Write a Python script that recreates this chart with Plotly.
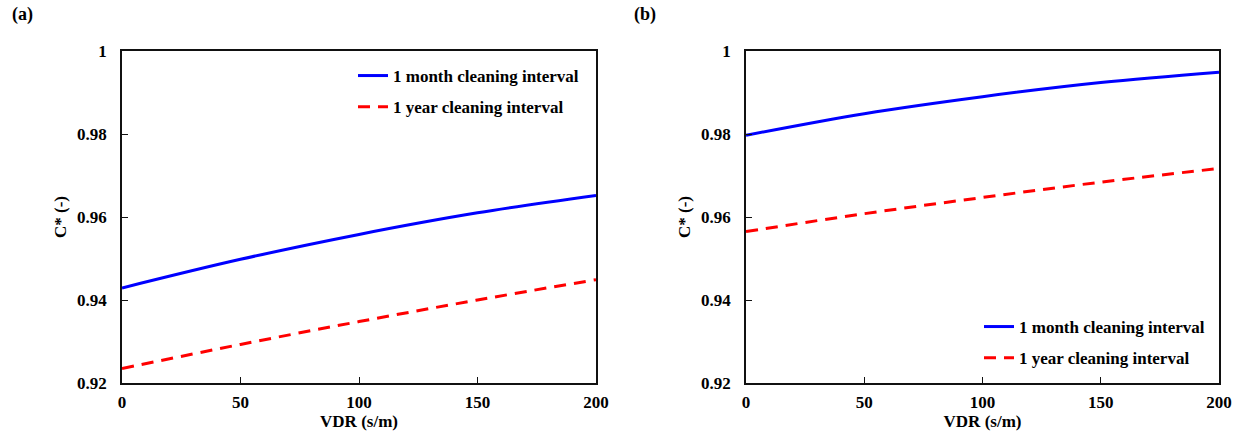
import plotly.graph_objects as go

# ---- data ----
vdr = [0, 50, 100, 150, 200]
a_month = [0.9429, 0.9498, 0.9558, 0.9610, 0.9652]
a_year = [0.9235, 0.9293, 0.9348, 0.9400, 0.9449]
b_month = [0.9797, 0.9849, 0.9890, 0.9924, 0.9949]
b_year = [0.9565, 0.9608, 0.9647, 0.9684, 0.9717]

name_month = "1 month cleaning interval"
name_year = "1 year cleaning interval"
x_title = "VDR (s/m)"
y_title = "C* (-)"
panel_labels = ["(a)", "(b)"]

W, H = 1241, 439
FONT = dict(family="Liberation Serif", size=17, color="black", weight="bold")
BLUE = "#0000FF"
RED = "#FF0000"

fig = go.Figure()

fig.add_trace(go.Scatter(x=vdr, y=a_month, name=name_month, mode="lines",
                         line=dict(color=BLUE, width=3, shape="spline"),
                         xaxis="x", yaxis="y", legend="legend", legendgroup="am"))
fig.add_trace(go.Scatter(x=vdr, y=a_year, name=name_year, mode="lines",
                         line=dict(color=RED, width=3, dash="12px,8px", shape="spline"),
                         xaxis="x", yaxis="y", legend="legend", legendgroup="ay"))
fig.add_trace(go.Scatter(x=vdr, y=b_month, name=name_month, mode="lines",
                         line=dict(color=BLUE, width=3, shape="spline"),
                         xaxis="x2", yaxis="y2", legend="legend2", legendgroup="bm"))
fig.add_trace(go.Scatter(x=vdr, y=b_year, name=name_year, mode="lines",
                         line=dict(color=RED, width=3, dash="12px,8px", shape="spline"),
                         xaxis="x2", yaxis="y2", legend="legend2", legendgroup="by"))

ydom = [1 - 383 / H, 1 - 51 / H]

def xax(dom, anchor):
    return dict(domain=dom, anchor=anchor, range=[0, 200], dtick=50, tick0=0,
                showgrid=False, zeroline=False, showline=True, linecolor="#111",
                linewidth=1.6, mirror=True, ticks="inside", ticklen=6, tickwidth=1.2,
                tickcolor="#111", ticklabelstandoff=3, automargin=False,
                title=dict(text=x_title, standoff=2, font=FONT), tickfont=FONT)

def yax(anchor):
    return dict(domain=ydom, anchor=anchor, range=[0.92, 1.0], dtick=0.02, tick0=0.92,
                showgrid=False, zeroline=False, showline=True, linecolor="#111",
                linewidth=1.6, mirror=True, ticks="inside", ticklen=6, tickwidth=1.2,
                tickcolor="#111", ticklabelstandoff=10, automargin=False,
                title=dict(text=y_title, standoff=6, font=FONT), tickfont=FONT)

legend_common = dict(font=FONT, bgcolor="rgba(0,0,0,0)", borderwidth=0,
                     traceorder="grouped", tracegroupgap=6, xanchor="left",
                     yanchor="top", itemwidth=30)

fig.update_layout(
    width=W, height=H,
    margin=dict(l=0, r=0, t=0, b=0),
    paper_bgcolor="white", plot_bgcolor="white",
    font=FONT,
    xaxis=xax([122 / W, 596 / W], "y"),
    yaxis=yax("x"),
    xaxis2=xax([746 / W, 1219 / W], "y2"),
    yaxis2=yax("x2"),
    legend=dict(x=353 / W, y=1 - 58 / H, **legend_common),
    legend2=dict(x=979 / W, y=1 - 309 / H, **legend_common),
    annotations=[
        dict(text=panel_labels[0], x=22 / W, y=1 - 15 / H, xref="paper", yref="paper",
             showarrow=False, font=dict(FONT, size=18), xanchor="center", yanchor="middle"),
        dict(text=panel_labels[1], x=645 / W, y=1 - 15 / H, xref="paper", yref="paper",
             showarrow=False, font=dict(FONT, size=18), xanchor="center", yanchor="middle"),
    ],
)

fig.write_html("out.html")
